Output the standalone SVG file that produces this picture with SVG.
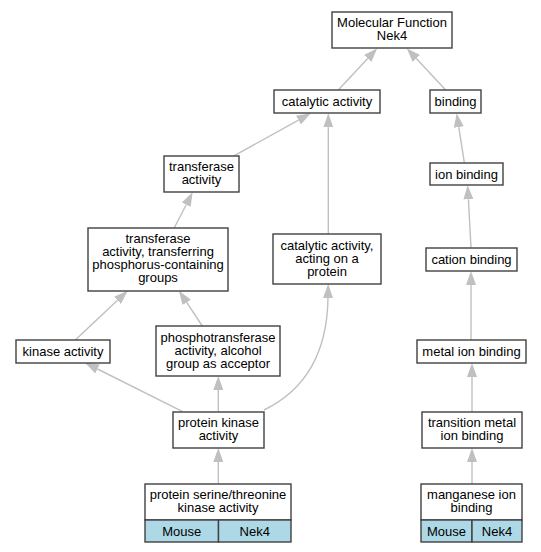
<svg xmlns="http://www.w3.org/2000/svg" width="541" height="552" viewBox="0 0 541 552">
<style>
.box{fill:#ffffff;stroke:#404040;stroke-width:1.4}
.rec{fill:#add8e6;stroke:#404040;stroke-width:1.4}
.t{font-family:"Liberation Sans",Arial,sans-serif;font-size:13px;fill:#000;text-anchor:middle}
.e{fill:none;stroke:#c0c0c0;stroke-width:1.4;marker-end:url(#arr)}
</style>
<defs>
<marker id="arr" viewBox="0 0 14 10" refX="0" refY="5" markerWidth="14" markerHeight="10" markerUnits="userSpaceOnUse" orient="auto">
<path d="M0,0 L14,5 L0,10 z" fill="#c0c0c0"/>
</marker>
</defs>
<rect width="541" height="552" fill="#ffffff"/>
<g id="edges">
<path class="e" d="M338.3,90 L367.7,58.5"/>
<path class="e" d="M445.7,90 L416.3,58.5"/>
<path class="e" d="M234.3,155.7 L298.5,120.1"/>
<path class="e" d="M328.3,234 L328.3,127.3"/>
<path class="e" d="M464.3,162.7 L458.8,127.1"/>
<path class="e" d="M471,247.7 L468.4,199.3"/>
<path class="e" d="M174.3,227.7 L186.2,204.7"/>
<path class="e" d="M75.3,340 L117.5,300.3"/>
<path class="e" d="M202.3,326 L186.7,302.4"/>
<path class="e" d="M471,340 L471,285"/>
<path class="e" d="M182.7,411.7 L97.5,369"/>
<path class="e" d="M218.3,412 L218.3,390"/>
<path class="e" d="M264,410 C295,395 327,365 328,298"/>
<path class="e" d="M218.3,484 L218.3,462"/>
<path class="e" d="M472,412 L472,377"/>
<path class="e" d="M472,484 L472,462"/>
</g>
<g id="n_mf">
<rect class="box" x="332" y="12" width="120" height="36"/>
<text class="t" x="392" y="26.5">Molecular Function</text>
<text class="t" x="392" y="39.5">Nek4</text>
</g>
<g id="n_catalytic">
<rect class="box" x="274" y="90" width="106" height="23"/>
<text class="t" x="327" y="105.5">catalytic activity</text>
</g>
<g id="n_binding">
<rect class="box" x="430" y="90" width="51" height="23"/>
<text class="t" x="455.5" y="105.5">binding</text>
</g>
<g id="n_transferase">
<rect class="box" x="164" y="156" width="75" height="36"/>
<text class="t" x="201.5" y="170.5">transferase</text>
<text class="t" x="201.5" y="183.5">activity</text>
</g>
<g id="n_ionbinding">
<rect class="box" x="430" y="163" width="73" height="22"/>
<text class="t" x="466.5" y="178.5">ion binding</text>
</g>
<g id="n_transferring">
<rect class="box" x="88" y="228" width="140" height="63"/>
<text class="t" x="158" y="243">transferase</text>
<text class="t" x="158" y="256">activity, transferring</text>
<text class="t" x="158" y="269">phosphorus-containing</text>
<text class="t" x="158" y="282">groups</text>
</g>
<g id="n_acting">
<rect class="box" x="273" y="234" width="108" height="50"/>
<text class="t" x="327" y="250">catalytic activity,</text>
<text class="t" x="327" y="263">acting on a</text>
<text class="t" x="327" y="276">protein</text>
</g>
<g id="n_cation">
<rect class="box" x="426" y="248" width="91" height="23"/>
<text class="t" x="471.5" y="263.5">cation binding</text>
</g>
<g id="n_kinase">
<rect class="box" x="16" y="340" width="94" height="23"/>
<text class="t" x="63" y="355.5">kinase activity</text>
</g>
<g id="n_phospho">
<rect class="box" x="156" y="326" width="124" height="50"/>
<text class="t" x="218" y="341.5">phosphotransferase</text>
<text class="t" x="218" y="354.5">activity, alcohol</text>
<text class="t" x="218" y="367.5">group as acceptor</text>
</g>
<g id="n_metal">
<rect class="box" x="417" y="340" width="109" height="23"/>
<text class="t" x="471.5" y="355.5">metal ion binding</text>
</g>
<g id="n_proteinkinase">
<rect class="box" x="173" y="412" width="91" height="36"/>
<text class="t" x="218.5" y="426.5">protein kinase</text>
<text class="t" x="218.5" y="439.5">activity</text>
</g>
<g id="n_transition">
<rect class="box" x="422" y="412" width="100" height="36"/>
<text class="t" x="472" y="426.5">transition metal</text>
<text class="t" x="472" y="439.5">ion binding</text>
</g>
<g id="n_serine">
<rect class="box" x="145" y="484" width="146" height="36"/>
<rect class="rec" x="145" y="520" width="73.5" height="22"/>
<rect class="rec" x="218.5" y="520" width="72.5" height="22"/>
<text class="t" x="218" y="498.5">protein serine/threonine</text>
<text class="t" x="218" y="511.5">kinase activity</text>
<text class="t" x="181.75" y="535.5">Mouse</text>
<text class="t" x="254.75" y="535.5">Nek4</text>
</g>
<g id="n_manganese">
<rect class="box" x="421" y="484" width="101" height="36"/>
<rect class="rec" x="421" y="520" width="51" height="22"/>
<rect class="rec" x="472" y="520" width="50" height="22"/>
<text class="t" x="471.5" y="498.5">manganese ion</text>
<text class="t" x="471.5" y="511.5">binding</text>
<text class="t" x="446.5" y="535.5">Mouse</text>
<text class="t" x="497" y="535.5">Nek4</text>
</g>
</svg>
